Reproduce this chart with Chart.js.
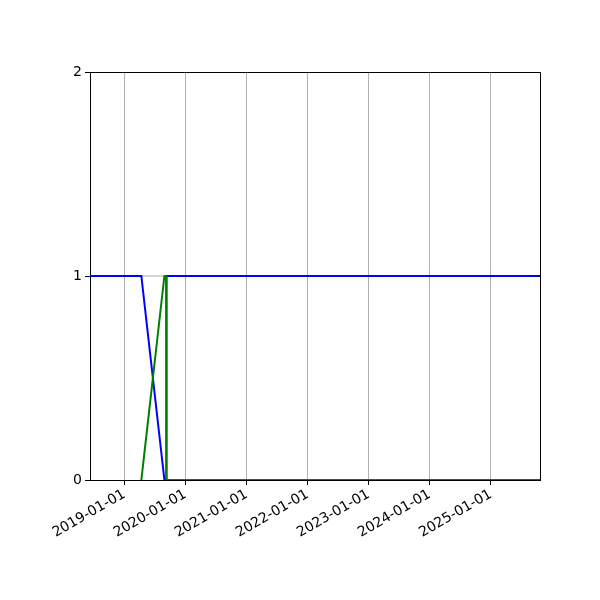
<!DOCTYPE html>
<html>
<head>
<meta charset="utf-8">
<script src="https://cdn.jsdelivr.net/npm/chart.js@4/dist/chart.umd.min.js"></script>
<style>
  body { margin: 0; background: #fff; }
  #grafico { display: block; }
</style>
</head>
<body>
<canvas id="grafico" width="600" height="600"></canvas>
<script>
// fechas y valores
const fechasAzul = ['2018-06-10', '2019-04-13', '2019-08-29', '2019-09-09', '2019-09-10', '2025-10-22'];
const valoresAzul = [1, 1, 0, 0, 1, 1];
const fechasVerde = ['2019-04-13', '2019-08-29', '2019-09-09', '2019-09-10', '2025-10-22'];
const valoresVerde = [0, 1, 1, 0, 0];
const fechasGris = ['2018-06-10', '2025-10-22'];
const valoresGris = [1, 1];
const anios = [2019, 2020, 2021, 2022, 2023, 2024, 2025];
const ticksY = [0, 1, 2];
const inicio = '2018-06-10';
const fin = '2025-10-22';

const ms = f => Date.parse(f + 'T00:00:00Z');
const puntos = (fechas, valores) => fechas.map((f, i) => ({ x: ms(f), y: valores[i] }));
const pad = n => String(n).padStart(2, '0');
const fmt = v => {
    const d = new Date(v);
    return d.getUTCFullYear() + '-' + pad(d.getUTCMonth() + 1) + '-' + pad(d.getUTCDate());
};

// marco superior y derecho como en matplotlib
const marco = {
    id: 'marco',
    afterDraw(chart) {
        const { ctx, chartArea: a } = chart;
        ctx.save();
        ctx.strokeStyle = '#000';
        ctx.lineWidth = 1;
        ctx.beginPath();
        ctx.moveTo(a.left, a.top + 0.5);
        ctx.lineTo(a.right + 0.5, a.top + 0.5);
        ctx.lineTo(a.right + 0.5, a.bottom);
        ctx.stroke();
        ctx.restore();
    }
};

const linea = (label, color, data, ancho, orden) => ({
    label, data,
    borderColor: color,
    backgroundColor: color,
    borderWidth: ancho,
    pointRadius: 0,
    tension: 0,
    order: orden
});

new Chart(document.querySelector('#grafico'), {
    type: 'line',
    data: {
        datasets: [
            linea('verde', '#008000', puntos(fechasVerde, valoresVerde), 2, 1),
            linea('azul', '#0000ff', puntos(fechasAzul, valoresAzul), 2, 2),
            linea('gris', '#aaaaaa', puntos(fechasGris, valoresGris), 1, 3)
        ]
    },
    options: {
        responsive: false,
        animation: false,
        devicePixelRatio: 1,
        layout: { padding: { top: 72, right: 60, left: 0, bottom: 0 } },
        plugins: { legend: { display: false }, tooltip: { enabled: false } },
        scales: {
            x: {
                type: 'linear',
                min: ms(inicio),
                max: ms(fin),
                afterBuildTicks: s => { s.ticks = anios.map(a => ({ value: Date.UTC(a, 0, 1) })); },
                afterFit: s => { s.height = 120; },
                grid: { color: '#b0b0b0', tickColor: '#000', tickLength: 5, lineWidth: 1 },
                border: { color: '#000', width: 1 },
                ticks: {
                    color: '#000',
                    font: { family: 'DejaVu Sans', size: 14 },
                    minRotation: 30,
                    maxRotation: 30,
                    padding: 1,
                    autoSkip: false,
                    callback: v => fmt(v)
                }
            },
            y: {
                min: 0,
                max: 2,
                afterBuildTicks: s => { s.ticks = ticksY.map(v => ({ value: v })); },
                afterFit: s => { s.width = 90; },
                grid: { drawOnChartArea: false, tickColor: '#000', tickLength: 5 },
                border: { color: '#000', width: 1 },
                ticks: {
                    color: '#000',
                    font: { family: 'DejaVu Sans', size: 14 },
                    padding: 3
                }
            }
        }
    },
    plugins: [marco]
});
</script>
</body>
</html>
